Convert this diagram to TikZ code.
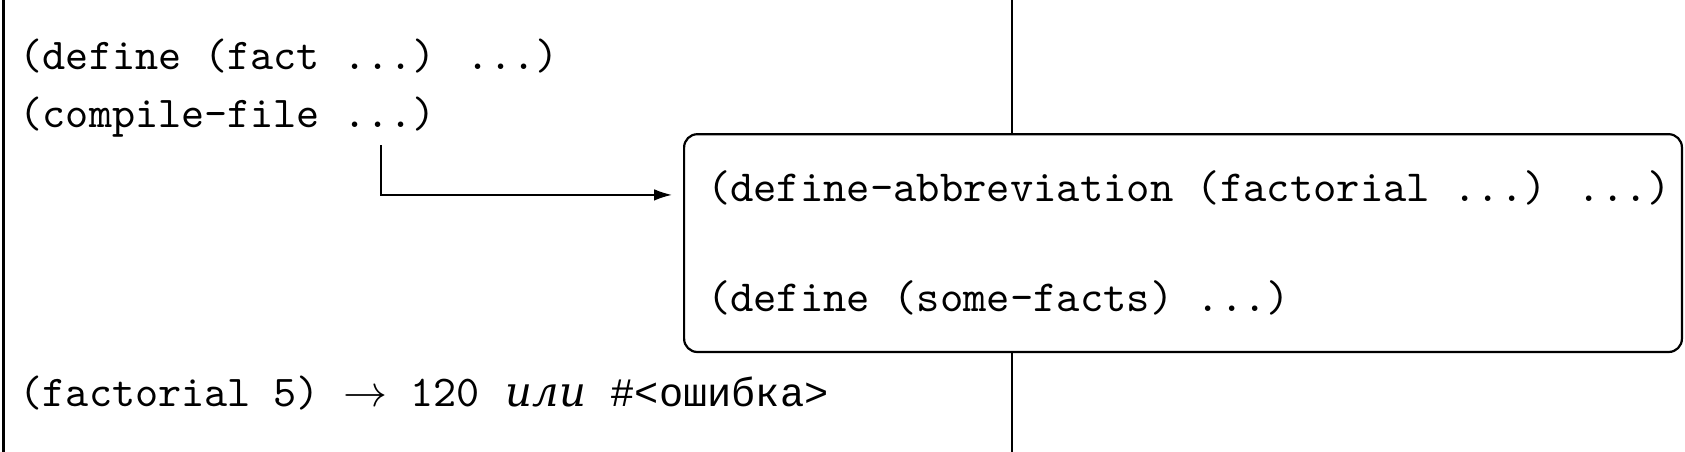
\documentclass[tikz,border=0pt]{standalone}
\usepackage{fontspec}
\newfontfamily\cyrtt[Scale=0.917]{Liberation Mono}
\newfontfamily\cyrit[Scale=0.95]{DejaVu Serif}
\usetikzlibrary{positioning, calc}
\usetikzlibrary{arrows.meta}

\tikzset{
    code/.style = {anchor=base west, inner sep=0pt, font=\ttfamily},
    boxcode/.style = {code, font=\ttfamily\fontsize{10.1pt}{12pt}\selectfont},
    macrobox/.style = {draw, line width=0.5pt, rounded corners=3pt, fill=white}
}

\begin{document}
\begin{tikzpicture}[x = 1pt, y = -1pt]

    \useasboundingbox (0,0) rectangle (383,102.7);

    % Границы
    \draw[line width=0.7pt] (0.7,0) -- (0.7,102.7);
    \draw[line width=0.5pt] (230,0) -- (230,102.7);

    % Исходный файл
    \node[code] (deffact) at (4.3,15.9) {(define (fact ...) ...)};
    \node[code] (compile) at (4.3,28.9) {(compile-file ...)};
    \coordinate (from) at (86.6,33);

    % Результат компиляции
    \draw[macrobox] (155.5,30.5) rectangle (382.3,80);
    \coordinate (boxleft) at (155.5,44.3);
    \node[boxcode] (abbrev) at (160.5,45.9) {(define-abbreviation (factorial ...) ...)};
    \node[boxcode] (somefacts) at (160.5,70.9) {(define (some-facts) ...)};

    % Стрелка
    \draw[-{Latex[length=4pt,width=2.6pt]}, line width=0.3pt, shorten >=2.8pt] (from) |- (boxleft);

    % Вызов
    \node[code] (call) at (4.3,92.3) {(factorial 5) $\to$ 120};
    \node[code, font=\cyrit\itshape] (ili) at (114.8,92.3) {или};
    \node[code, font=\cyrtt] (error) at (138.6,92.3) {\#<ошибка>};

\end{tikzpicture}
\end{document}
